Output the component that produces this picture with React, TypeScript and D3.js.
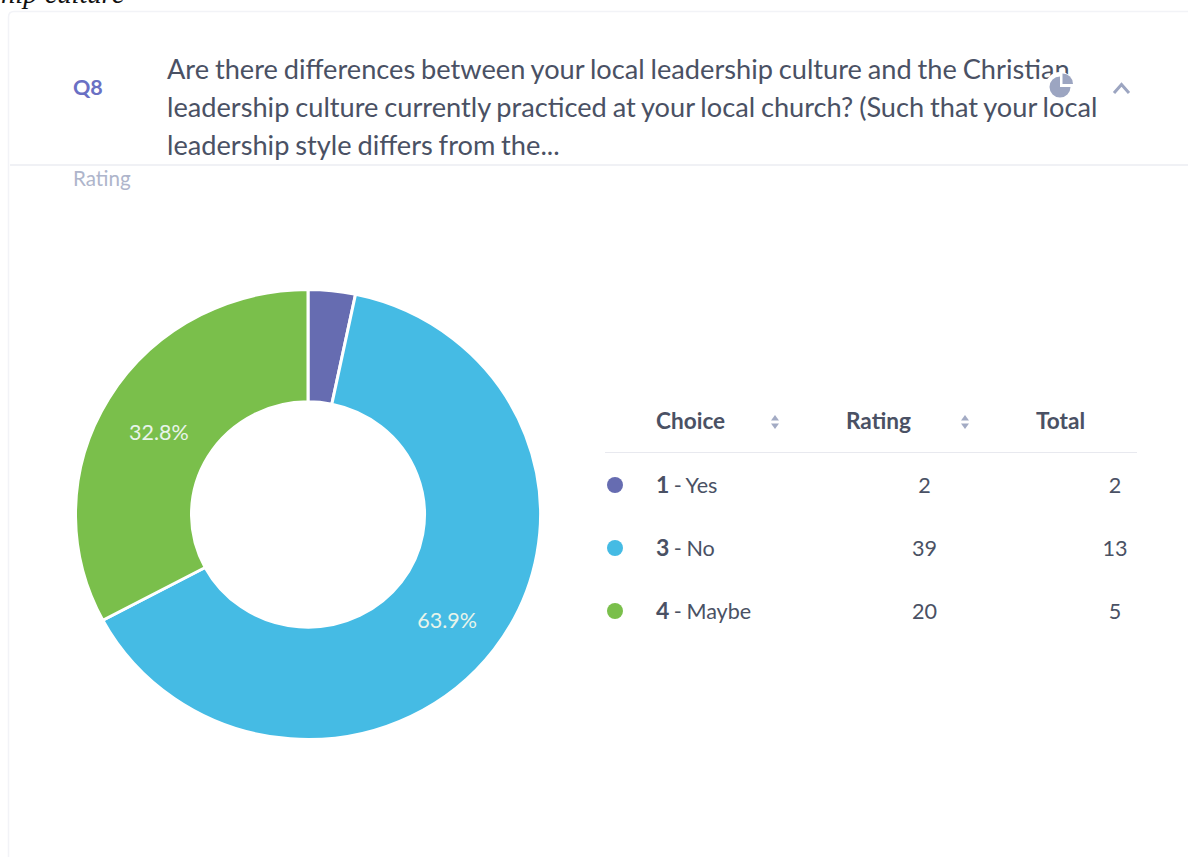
import React from "react";
import * as d3 from "d3";

const choiceNumbers = ["1", "3", "4"];
const choiceLabels = ["Yes", "No", "Maybe"];
const ratings = [2, 39, 20];
const totals = [2, 13, 5];
const colors = ["#666cb1", "#45bbe4", "#7abf4b"];
const percentLabels = ["", "63.9%", "32.8%"];
const questionLines = [
  "Are there differences between your local leadership culture and the Christian",
  "leadership culture currently practiced at your local church? (Such that your local",
  "leadership style differs from the...",
];

const F = "Lato, sans-serif";
const TEXT = "#4a5164";

function SortIcon({ x, y }: { x: number; y: number }) {
  return (
    <g fill="#a3abc4">
      <path d={`M${x - 4},${y - 1.5}L${x},${y - 7}L${x + 4},${y - 1.5}Z`} />
      <path d={`M${x - 4},${y + 1.5}L${x},${y + 7}L${x + 4},${y + 1.5}Z`} />
    </g>
  );
}

export default function App() {
  const cx = 308;
  const cy = 514.5;
  const yStretch = 447 / 462;
  const pie = d3.pie<number>().sort(null)(ratings);
  const arc = d3.arc<d3.PieArcDatum<number>>().innerRadius(116.5).outerRadius(232.5);
  const labelArc = d3.arc<d3.PieArcDatum<number>>().innerRadius(163).outerRadius(185);
  const rowY = d3.scalePoint<number>().domain([0, 1, 2]).range([485, 611]);

  return (
    <svg width={1188} height={857} style={{ position: "fixed", left: 0, top: 0, background: "#fff" }} fontFamily={F}>
      <text x={-10} y={3} fontFamily="'Liberation Serif', serif" fontStyle="italic" fontSize={28.5} fill="#111">ship culture</text>
      <path d="M1188,11.5H14Q8.5,11.5 8.5,17V857" fill="none" stroke="#f2f3f7" strokeWidth={1.5} />
      <line x1={10} x2={1188} y1={165} y2={165} stroke="#e1e3eb" strokeWidth={1.2} />

      <text x={73} y={95} fontSize={21.5} fontWeight={700} fill="#6a70c4">Q8</text>
      {questionLines.map((line, i) => (
        <text key={i} x={167} y={79 + i * 38} fontSize={27.2} wordSpacing={-1.1} fill={TEXT}>{line}</text>
      ))}
      <text x={73} y={186} fontSize={20.6} fill="#aeb5cb">Rating</text>

      <circle cx={1060} cy={87} r={15} fill="#fff" />
      <g fill="#9ca5c1">
        <path d="M1060,76.5A10.5,10.5 0 1 0 1070.5,87L1060,87Z" />
        <path d="M1062.5,73.5A10.5,10.5 0 0 1 1073,84L1062.5,84Z" />
      </g>
      <path d="M1114,93L1121.5,84.5L1129,93" fill="none" stroke="#9ca5c1" strokeWidth={3} />

      <g transform={`translate(${cx},${cy}) scale(1,${yStretch})`}>
        {pie.map((d, i) => (
          <path key={i} d={arc(d) as string} fill={colors[i]} stroke="#fff" strokeWidth={3} />
        ))}
      </g>
      <g transform={`translate(${cx},${cy + 4})`}>
        {pie.map((d, i) => {
          if (!percentLabels[i]) return null;
          const [lx, ly] = labelArc.centroid(d);
          return (
            <text key={i} x={lx} y={ly * yStretch} fontSize={21.5} fill="#e8f4ea" textAnchor="middle" dominantBaseline="central">
              {percentLabels[i]}
            </text>
          );
        })}
      </g>

      <text x={656} y={429} fontSize={22.6} fontWeight={700} fill={TEXT}>Choice</text>
      <SortIcon x={775} y={422} />
      <text x={846} y={429} fontSize={22.6} fontWeight={700} fill={TEXT}>Rating</text>
      <SortIcon x={965} y={422} />
      <text x={1036} y={429} fontSize={22.6} fontWeight={700} fill={TEXT}>Total</text>
      <line x1={605} x2={1137} y1={452.5} y2={452.5} stroke="#e8e9ef" strokeWidth={1.2} />

      {ratings.map((r, i) => {
        const y = rowY(i) as number;
        return (
          <g key={i} fontSize={21.6} fill={TEXT}>
            <circle cx={615} cy={y} r={8} fill={colors[i]} />
            <text x={656} y={y + 8} wordSpacing={-1}>
              <tspan fontWeight={700} fontSize={23}>{choiceNumbers[i]}</tspan>
              <tspan> - {choiceLabels[i]}</tspan>
            </text>
            <text x={924.5} y={y + 8} textAnchor="middle">{r}</text>
            <text x={1115} y={y + 8} textAnchor="middle">{totals[i]}</text>
          </g>
        );
      })}
    </svg>
  );
}
